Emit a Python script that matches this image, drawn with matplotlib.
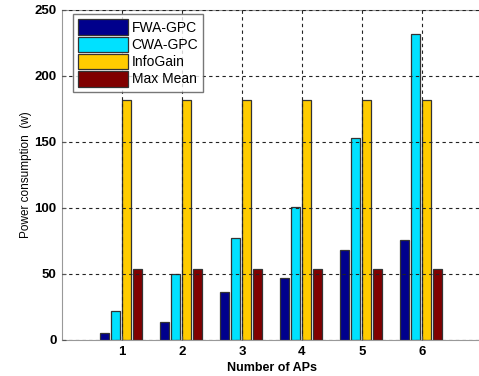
import matplotlib
matplotlib.use("Agg")
import matplotlib.pyplot as plt
import numpy as np

plt.rcParams['font.family'] = ['Liberation Sans', 'DejaVu Sans']

aps = [1, 2, 3, 4, 5, 6]
fwa_gpc = [5, 14, 36, 47, 68, 76]
cwa_gpc = [22, 50, 77, 101, 153, 232]
infogain = [182, 182, 182, 182, 182, 182]
max_mean = [54, 54, 54, 54, 54, 54]

series = [("FWA-GPC", fwa_gpc, "#00008C"),
          ("CWA-GPC", cwa_gpc, "#00E1FF"),
          ("InfoGain", infogain, "#FFCC00"),
          ("Max Mean", max_mean, "#800000")]
offsets = [-0.29, -0.11, 0.075, 0.255]
width = 0.15

fig = plt.figure(figsize=(4.79, 3.76), dpi=100)
ax = fig.add_axes([62/479, 36/376, 420/479, 330/376])
x = np.array(aps, dtype=float)
for (name, vals, col), off in zip(series, offsets):
    ax.bar(x + off, vals, width=width, color=col, edgecolor="#333333",
           linewidth=0.9, label=name, zorder=2)

ax.set_xlim(0, 7)
ax.set_ylim(0, 250)
ax.set_xticks(aps)
ax.set_yticks([0, 50, 100, 150, 200, 250])
ax.grid(True, linestyle=(0, (3, 3)), color="#222222", linewidth=0.8, zorder=3)
ax.set_axisbelow(False)
for s in ax.spines.values():
    s.set_color("#999999")
ax.spines['right'].set_visible(False)
ax.tick_params(direction="in", length=3, color="#555555", labelsize=9.5, pad=4,
               right=False)
for lab in ax.get_xticklabels() + ax.get_yticklabels():
    lab.set_fontweight("bold")
ax.set_xlabel("Number of APs", fontsize=9, fontweight="bold", labelpad=3)
ax.set_ylabel("Power consumption  (w)", fontsize=8.5, labelpad=2)

leg = ax.legend(loc="upper left", bbox_to_anchor=(0.02, 0.995), fontsize=10,
                frameon=True, fancybox=False, edgecolor="#555555",
                handlelength=3.6, handleheight=1.35, labelspacing=0.12,
                borderpad=0.35, handletextpad=0.25, borderaxespad=0.2)
leg.get_frame().set_linewidth(1.0)
leg.set_zorder(5)

fig.savefig("out.png", dpi=100)
